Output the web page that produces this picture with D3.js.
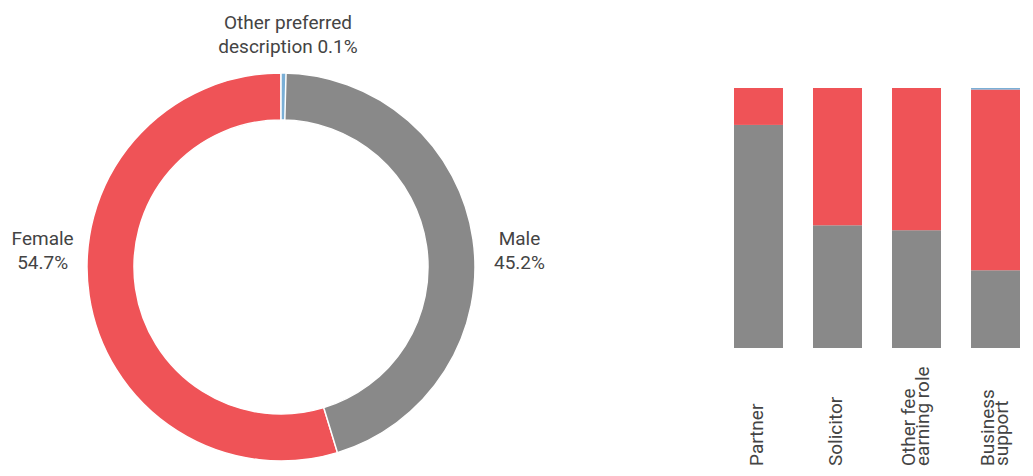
<!DOCTYPE html>
<html>
<head>
<meta charset="utf-8">
<script src="https://cdn.jsdelivr.net/npm/d3@7"></script>
<style>
  body { margin: 0; background: #fff; }
  svg text { font-family: Roboto, "Liberation Sans", sans-serif; fill: #444; }
</style>
</head>
<body>
<svg id="chart" width="1033" height="476"></svg>
<script>
// donut: overall gender split
const genders = ['Other preferred description', 'Male', 'Female'];
const genderShares = [0.1, 45.2, 54.7];

// stacked bars: split by role
const roles = [['Partner'], ['Solicitor'], ['Other fee', 'earning role'], ['Business', 'support']];
const roleMale = [85.8, 47.2, 45.3, 29.9];
const roleFemale = [14.2, 52.8, 54.7, 69.5];
const roleOther = [0, 0, 0, 0.6];

const colours = { 'Male': '#898989', 'Female': '#ef5357', 'Other preferred description': '#7aafd6' };

const svg = d3.select('#chart');

// ---- donut ----
const cx = 281, cy = 267;
const outerR = 194, innerR = 147;

const pieData = d3.pie()
    .sort(null)
    .value(d => d.value)(genders.map((g, i) => ({ name: g, value: genderShares[i] })));

const arc = d3.arc().innerRadius(innerR).outerRadius(outerR);

const donut = svg.append('g').attr('transform', `translate(${cx},${cy})`);

// the tiny slice is widened a little so it stays visible, and drawn last
donut.selectAll('path')
  .data(pieData.slice().reverse())
  .join('path')
    .attr('d', d => arc({ ...d, endAngle: Math.max(d.endAngle, d.startAngle + 0.026) }))
    .attr('fill', d => colours[d.data.name])
    .attr('stroke', '#fff')
    .attr('stroke-width', 1.5);

const fmt = v => `${v}%`;

// side labels
const sideLabels = pieData.slice(1);
donut.selectAll('text.side')
  .data(sideLabels)
  .join('text')
    .attr('class', 'side')
    .attr('text-anchor', 'middle')
    .attr('font-size', 19)
    .attr('transform', d => {
      const mid = (d.startAngle + d.endAngle) / 2;
      return `translate(${Math.sin(mid) * 241},${-22})`;
    })
    .call(t => t.append('tspan').attr('x', 0).attr('dy', 0).text(d => d.data.name))
    .call(t => t.append('tspan').attr('x', 0).attr('dy', 24).text(d => fmt(d.data.value)));

// top label for the tiny slice
svg.append('text')
    .attr('text-anchor', 'middle')
    .attr('font-size', 19)
    .attr('transform', `translate(${cx + 7},29)`)
    .call(t => t.append('tspan').attr('x', 0).attr('dy', 0).text('Other preferred'))
    .call(t => t.append('tspan').attr('x', 0).attr('dy', 24).text(`description ${fmt(genderShares[0])}`));

// ---- stacked bars ----
const roleKeys = roles.map(r => r.join(' '));
const rows = roleKeys.map((k, i) => ({
  role: k,
  'Male': roleMale[i],
  'Female': roleFemale[i],
  'Other preferred description': roleOther[i]
}));

const stack = d3.stack().keys(['Male', 'Female', 'Other preferred description']);
const series = stack(rows);

const x = d3.scaleBand()
    .domain(roleKeys)
    .range([734, 1020])
    .paddingInner(0.38)
    .paddingOuter(0);

const y = d3.scaleLinear()
    .domain([0, 100])
    .range([348, 88]);

svg.append('g')
  .selectAll('g')
  .data(series)
  .join('g')
    .attr('fill', d => colours[d.key])
  .selectAll('rect')
  .data(d => d)
  .join('rect')
    .attr('x', d => x(d.data.role))
    .attr('width', x.bandwidth())
    .attr('y', d => y(d[1]))
    .attr('height', d => Math.max(0, y(d[0]) - y(d[1])));

// rotated category labels
svg.append('g')
  .selectAll('text')
  .data(roles)
  .join('text')
    .attr('text-anchor', 'start')
    .attr('font-size', 19)
    .attr('transform', (d, i) => {
      const c = x(roleKeys[i]) + x.bandwidth() / 2;
      const shift = d.length > 1 ? -2 : 5;
      return `translate(${c + shift},466) rotate(-90)`;
    })
    .each(function(d) {
      d3.select(this).selectAll('tspan')
        .data(d)
        .join('tspan')
          .attr('x', 0)
          .attr('dy', (t, j) => j === 0 ? 0 : 14)
          .text(t => t);
    });
</script>
</body>
</html>
